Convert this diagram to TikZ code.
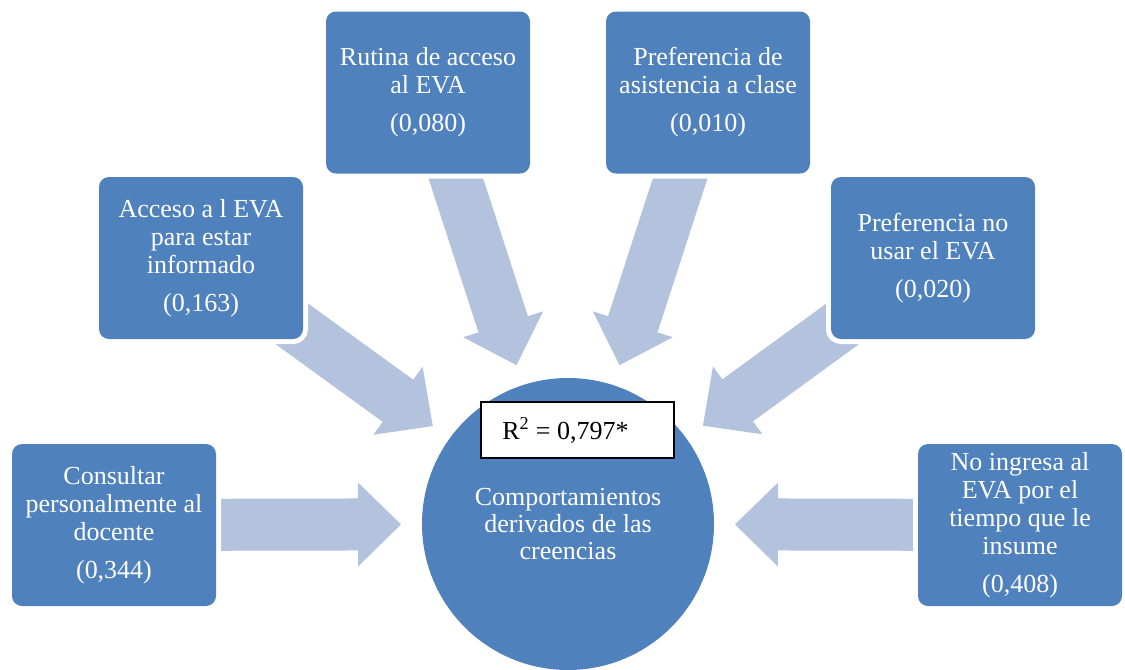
\documentclass[tikz,border=0pt]{standalone}
\usepackage{fontspec}
\setmainfont{Liberation Serif}
\usetikzlibrary{calc,backgrounds}
\definecolor{boxblue}{HTML}{4F81BD}
\definecolor{arrowblue}{HTML}{B3C2DD}
\newcommand\bxfont{\fontsize{19.5}{21}\selectfont}
\newcommand\radialarrow[1]{%
  \coordinate (tipP) at ($(cen.center)!125.25pt!(#1.center)$);
  \coordinate (headP) at ($(cen.center)!157.5pt!(#1.center)$);
  \coordinate (tailP) at ($(#1.center)!10pt!(cen.center)$);
  \fill[arrowfill] (tipP)
    -- ($(headP)!31.5pt!90:(#1.center)$)
    -- ($(headP)!19.5pt!90:(#1.center)$)
    -- ($(tailP)!19.5pt!-90:(cen.center)$)
    -- ($(tailP)!19.5pt!90:(cen.center)$)
    -- ($(headP)!19.5pt!-90:(#1.center)$)
    -- ($(headP)!31.5pt!-90:(#1.center)$)
    -- cycle;
}
\tikzset{
  arrowfill/.style={fill=arrowblue},
  infobox/.style={rectangle, rounded corners=7.5pt, fill=boxblue,
    minimum width=153pt, minimum height=121.5pt, text=white,
    align=center, inner sep=0pt, font=\bxfont,
    preaction={draw=white, line width=7.5pt}},
  centre/.style={circle, fill=boxblue, minimum size=219pt, inner sep=0pt,
    text=white, align=center, font=\fontsize{19.5}{20.5}\selectfont},
  rbox/.style={rectangle, draw=black, line width=1.5pt, fill=white,
    minimum width=144.75pt, minimum height=42pt, inner sep=0pt,
    font=\fontsize{19.5}{21}\selectfont}
}
\begin{document}
\begin{tikzpicture}[x=0.75pt,y=-0.75pt]
\path[use as bounding box, clip] (0,0) rectangle (1125,669);
\node[centre] (cen) at (568,524) {Comportamientos\\derivados de las\\creencias};
\node[infobox] (rut) at (428,92.5) {Rutina de acceso\\al EVA\\[7.5pt](0,080)};
\node[infobox] (pas) at (708,92.5) {Preferencia de\\asistencia a clase\\[7.5pt](0,010)};
\node[infobox] (acc) at (201,258) {Acceso a l EVA\\para estar\\informado\\[7.5pt](0,163)};
\node[infobox] (pno) at (933,258) {Preferencia no\\usar el EVA\\[7.5pt](0,020)};
\node[infobox] (con) at (114,525) {Consultar\\personalmente al\\docente\\[7.5pt](0,344)};
\node[infobox] (noi) at (1020,525) {No ingresa al\\EVA por el\\tiempo que le\\insume\\[7.5pt](0,408)};
\node[rbox] (rsq) at (577.5,430) {R\textsuperscript{2} = 0,797*\hspace*{18pt}};
\begin{pgfonlayer}{background}
\radialarrow{rut}
\radialarrow{pas}
\radialarrow{acc}
\radialarrow{pno}
\radialarrow{con}
\radialarrow{noi}
\end{pgfonlayer}
\end{tikzpicture}
\end{document}
